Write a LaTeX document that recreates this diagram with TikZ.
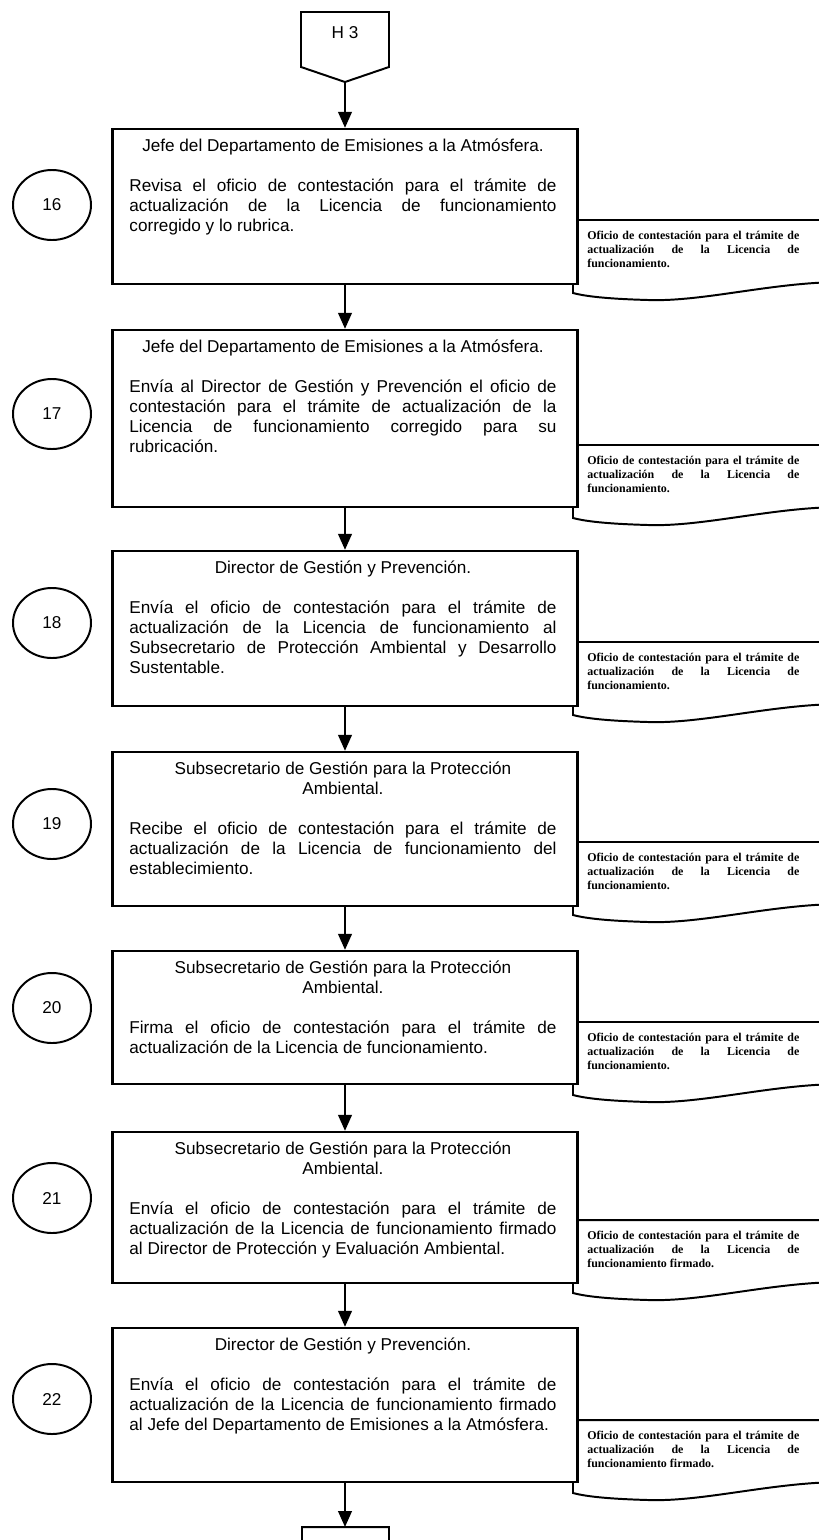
\documentclass[tikz,border=0pt]{standalone}
\usepackage{fontspec}
\setmainfont{Liberation Sans}
\newfontfamily\docfont{Liberation Serif}
\usetikzlibrary{arrows.meta,positioning,shapes.geometric}

\begin{document}
\begin{tikzpicture}[x=0.025cm, y=-0.025cm,
  every node/.style={font=\fontsize{12.2}{14.2}\selectfont},
  stepbox/.style={draw, line width=1.6pt, fill=white, minimum width=11.625cm},
  steptext/.style={text width=10.675cm, align=justify, inner sep=0pt, anchor=north},
  stepnum/.style={ellipse, draw, line width=1.4pt, minimum width=1.95cm, minimum height=1.75cm},
  doctext/.style={text width=5.3cm, align=justify, inner sep=0pt, anchor=north west,
    font=\docfont\bfseries\fontsize{8.5}{9.9}\selectfont},
  flow/.style={-{Triangle[length=4mm,width=3.4mm]}, line width=1.6pt},
  docshape/.pic={\draw[line width=1.4pt, fill=white] (0,0) -- (270,0) -- (270,62)
    .. controls (200,62) and (130,82) .. (75,80) .. controls (40,79) and (15,77) .. (0,73) -- cycle;}]
  \useasboundingbox (0,0) rectangle (819,1540);
  \clip (0,0) rectangle (819,1540);

  % connector from the previous page
  \coordinate (h3tip) at (345,82);
  \draw[line width=1.4pt] (301,12) -- (389,12) -- (389,67) -- (h3tip) -- (301,67) -- cycle;
  \node (h3) at (345,33) {H 3};

  % documents (drawn first, the boxes cover their left edge)
  \pic at (573,220) {docshape};
  \pic at (573,445) {docshape};
  \pic at (573,642) {docshape};
  \pic at (573,842) {docshape};
  \pic at (573,1022) {docshape};
  \pic at (573,1220) {docshape};
  \pic at (573,1420) {docshape};

  % step 16
  \node[stepbox, minimum height=3.875cm] (b16) at (345,206.5) {};
  \node[steptext] (t16) at (343,139) {{\centering Jefe del Departamento de Emisiones a la Atmósfera.\par}\vspace{\baselineskip}
    Revisa el oficio de contestación para el trámite de\linebreak actualización de la Licencia de funcionamiento\linebreak corregido y lo rubrica.};
  \node[stepnum] (n16) at (52,205) {16};
  \node[doctext] (d16) at (587,231) {Oficio de contestación para el trámite de\linebreak actualización de la Licencia de\linebreak funcionamiento.};

  % step 17
  \node[stepbox, minimum height=4.425cm] (b17) at (345,418.5) {};
  \node[steptext] (t17) at (343,340) {{\centering Jefe del Departamento de Emisiones a la Atmósfera.\par}\vspace{\baselineskip}
    Envía al Director de Gestión y Prevención el oficio de\linebreak contestación para el trámite de actualización de la\linebreak Licencia de funcionamiento corregido para su\linebreak rubricación.};
  \node[stepnum] (n17) at (52,414) {17};
  \node[doctext] (d17) at (587,456) {Oficio de contestación para el trámite de\linebreak actualización de la Licencia de\linebreak funcionamiento.};

  % step 18
  \node[stepbox, minimum height=3.875cm] (b18) at (345,628.5) {};
  \node[steptext] (t18) at (343,561) {{\centering Director de Gestión y Prevención.\par}\vspace{\baselineskip}
    Envía el oficio de contestación para el trámite de\linebreak actualización de la Licencia de funcionamiento al\linebreak Subsecretario de Protección Ambiental y Desarrollo\linebreak Sustentable.};
  \node[stepnum] (n18) at (52,623) {18};
  \node[doctext] (d18) at (587,653) {Oficio de contestación para el trámite de\linebreak actualización de la Licencia de\linebreak funcionamiento.};

  % step 19
  \node[stepbox, minimum height=3.85cm] (b19) at (345,829) {};
  \node[steptext] (t19) at (343,762) {{\centering Subsecretario de Gestión para la Protección\\ Ambiental.\par}\vspace{\baselineskip}
    Recibe el oficio de contestación para el trámite de\linebreak actualización de la Licencia de funcionamiento del\linebreak establecimiento.};
  \node[stepnum] (n19) at (52,824) {19};
  \node[doctext] (d19) at (587,853) {Oficio de contestación para el trámite de\linebreak actualización de la Licencia de\linebreak funcionamiento.};

  % step 20
  \node[stepbox, minimum height=3.325cm] (b20) at (345,1017.5) {};
  \node[steptext] (t20) at (343,961) {{\centering Subsecretario de Gestión para la Protección\\ Ambiental.\par}\vspace{\baselineskip}
    Firma el oficio de contestación para el trámite de\linebreak actualización de la Licencia de funcionamiento.};
  \node[stepnum] (n20) at (52,1008) {20};
  \node[doctext] (d20) at (587,1033) {Oficio de contestación para el trámite de\linebreak actualización de la Licencia de\linebreak funcionamiento.};

  % step 21
  \node[stepbox, minimum height=3.775cm] (b21) at (345,1207.5) {};
  \node[steptext] (t21) at (343,1142) {{\centering Subsecretario de Gestión para la Protección\\ Ambiental.\par}\vspace{\baselineskip}
    Envía el oficio de contestación para el trámite de\linebreak actualización de la Licencia de funcionamiento firmado\linebreak al Director de Protección y Evaluación Ambiental.};
  \node[stepnum] (n21) at (52,1198) {21};
  \node[doctext] (d21) at (587,1231) {Oficio de contestación para el trámite de\linebreak actualización de la Licencia de\linebreak funcionamiento firmado.};

  % step 22
  \node[stepbox, minimum height=3.85cm] (b22) at (345,1405) {};
  \node[steptext] (t22) at (343,1338) {{\centering Director de Gestión y Prevención.\par}\vspace{\baselineskip}
    Envía el oficio de contestación para el trámite de\linebreak actualización de la Licencia de funcionamiento firmado\linebreak al Jefe del Departamento de Emisiones a la Atmósfera.};
  \node[stepnum] (n22) at (52,1399) {22};
  \node[doctext] (d22) at (587,1431) {Oficio de contestación para el trámite de\linebreak actualización de la Licencia de\linebreak funcionamiento firmado.};

  % connector to the next page
  \coordinate (h4top) at (345,1527);
  \draw[line width=1.4pt] (h4top) -- (389,1527) -- (389,1582) -- (345,1597) -- (302,1582) -- (302,1527) -- cycle;

  \draw[flow] (h3tip) -- (b16);
  \draw[flow] (b16) -- (b17);
  \draw[flow] (b17) -- (b18);
  \draw[flow] (b18) -- (b19);
  \draw[flow] (b19) -- (b20);
  \draw[flow] (b20) -- (b21);
  \draw[flow] (b21) -- (b22);
  \draw[flow] (b22) -- (h4top);
\end{tikzpicture}
\end{document}
